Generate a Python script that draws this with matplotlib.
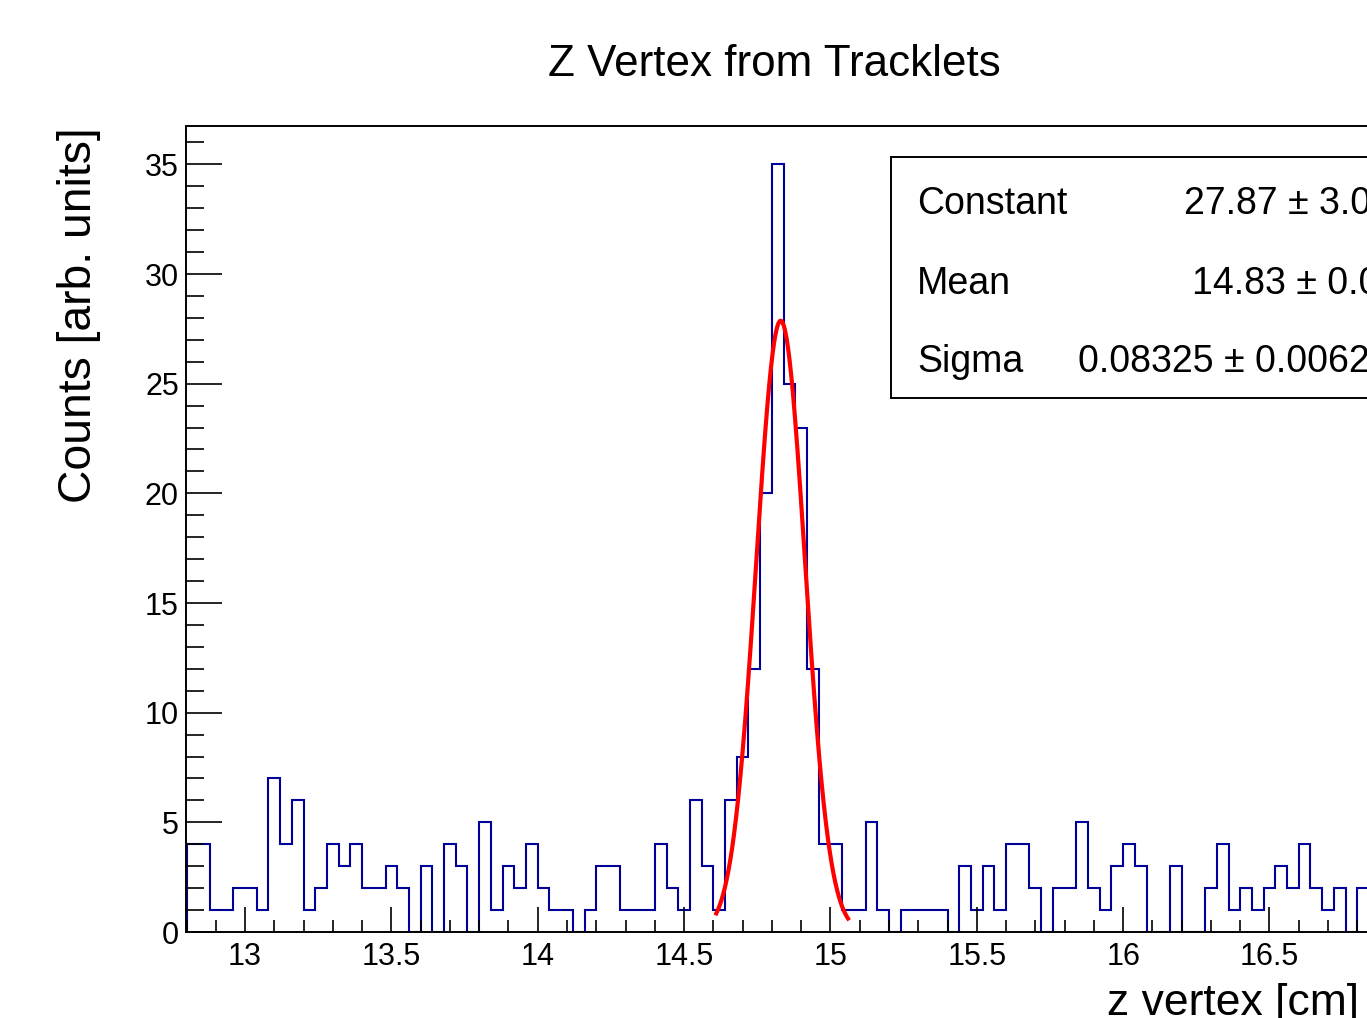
import numpy as np
import matplotlib.pyplot as plt
from matplotlib.patches import Rectangle
from matplotlib.ticker import MultipleLocator, FuncFormatter

# =====================================================
# 1) DADOS (lidos do histograma)
# =====================================================
bin_lo = 12.80          # borda inferior do primeiro bin
bin_width = 0.04        # largura do bin [cm]
counts = [4, 4, 1, 1, 2, 2, 1, 7, 4, 6,
          1, 2, 4, 3, 4, 2, 2, 3, 2, 0,
          3, 0, 4, 3, 0, 5, 1, 3, 2, 4,
          2, 1, 1, 0, 1, 3, 3, 1, 1, 1,
          4, 2, 1, 6, 3, 1, 6, 8, 12, 20,
          35, 25, 23, 12, 4, 4, 1, 1, 5, 1,
          0, 1, 1, 1, 1, 0, 3, 1, 3, 1,
          4, 4, 2, 0, 2, 2, 5, 2, 1, 3,
          4, 3, 0, 0, 3, 0, 0, 2, 4, 1,
          2, 1, 2, 3, 2, 4, 2, 1, 2, 0,
          2]

# ajuste gaussiano
fit_names = ["Constant", "Mean", "Sigma"]
fit_values = ["27.87 \u00b1 3.05", "14.83 \u00b1 0.01", "0.08325 \u00b1 0.00626"]
fit_const = 27.87
fit_mean = 14.83
fit_sigma = 0.08325
fit_range = (14.61, 15.06)

x_ticks = [13, 13.5, 14, 14.5, 15, 15.5, 16, 16.5]
y_ticks = [0, 5, 10, 15, 20, 25, 30, 35]

edges = bin_lo + bin_width * np.arange(len(counts) + 1)

# =====================================================
# 2) FIGURA (pixels -> fração)
# =====================================================
W, H = 1367, 1018
plt.rcParams['font.family'] = ['Liberation Sans', 'DejaVu Sans']
fig = plt.figure(figsize=(W / 100, H / 100), dpi=100)

xmin, xmax = 12.8, 17.2
px_per_cm = 292.7
ax_left, ax_top, ax_bottom = 186.5, 126, 932
ax = fig.add_axes([ax_left / W, 1 - ax_bottom / H,
                   (xmax - xmin) * px_per_cm / W, (ax_bottom - ax_top) / H])

# =====================================================
# 3) HISTOGRAMA + AJUSTE
# =====================================================
ax.stairs(counts, edges, color="#000099", lw=1.5, baseline=0)

xf = np.linspace(fit_range[0], fit_range[1], 300)
yf = fit_const * np.exp(-0.5 * ((xf - fit_mean) / fit_sigma) ** 2)
ax.plot(xf, yf, color="red", lw=3)

# =====================================================
# 4) EIXOS
# =====================================================
ax.set_xlim(xmin, xmax)
ax.set_ylim(0, 36.75)
for s in ax.spines.values():
    s.set_linewidth(1.4)

ax.set_xticks(x_ticks)
ax.set_yticks(y_ticks)
ax.xaxis.set_minor_locator(MultipleLocator(0.1))
ax.yaxis.set_minor_locator(MultipleLocator(1))
ax.xaxis.set_major_formatter(FuncFormatter(lambda v, p: f"{v:g}"))
ax.tick_params(axis="x", which="major", direction="in", length=18, width=1.2,
               labelsize=22, pad=7)
ax.tick_params(axis="x", which="minor", direction="in", length=9, width=1.2)
ax.tick_params(axis="y", which="major", direction="in", length=26, width=1.2,
               labelsize=22, pad=5.5)
ax.tick_params(axis="y", which="minor", direction="in", length=13, width=1.2)

# títulos
fig.text(774 / W, 1 - 76 / H, "Z Vertex from Tracklets", fontsize=31.7,
         ha="center", va="baseline")
fig.text(1107 / W, 1 - 1015 / H, "z vertex [cm]", fontsize=32,
         ha="left", va="baseline")
fig.text(79 / W, 1 - 127 / H, "Counts [arb. units]", fontsize=33.3,
         rotation=90, ha="center", va="top")

# =====================================================
# 5) CAIXA DE ESTATÍSTICAS DO AJUSTE
# =====================================================
box = Rectangle((891 / W, 1 - 398 / H), 600 / W, (398 - 157) / H,
                transform=fig.transFigure, fill=True, facecolor="white",
                edgecolor="black", lw=1.4, zorder=5)
fig.add_artist(box)

row_base = [214, 293.5, 372.5]
val_x = [1184, 1192, 1078]
for name, val, yb, xv in zip(fit_names, fit_values, row_base, val_x):
    fig.text(917 / W, 1 - yb / H, name, fontsize=27, ha="left",
             va="baseline", zorder=6)
    fig.text(xv / W, 1 - yb / H, val, fontsize=27, ha="left",
             va="baseline", zorder=6)

plt.savefig("out.png", dpi=100)
